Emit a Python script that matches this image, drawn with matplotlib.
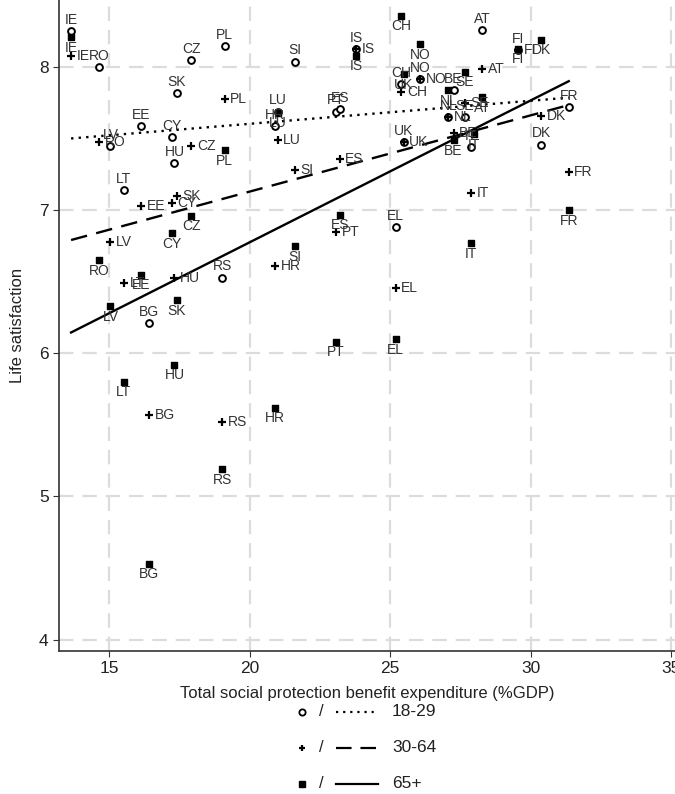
import numpy as np
import matplotlib
matplotlib.use('Agg')
import matplotlib.pyplot as plt

plt.rcParams['font.family'] = ['Liberation Sans', 'DejaVu Sans']

# Datos
countries = ['IE', 'RO', 'LV', 'LT', 'EE', 'BG', 'CY', 'HU', 'SK', 'CZ',
             'RS', 'PL', 'HR', 'LU', 'SI', 'PT', 'ES', 'IS', 'EL', 'CH',
             'UK', 'NO', 'NL', 'BE', 'SE', 'IT', 'AT', 'FI', 'DK', 'FR']
expenditure = [13.65, 14.65, 15.05, 15.53, 16.14, 16.43, 17.23, 17.33, 17.42, 17.93,
               19.03, 19.12, 20.91, 21.00, 21.61, 23.08, 23.21, 23.80, 25.20, 25.40,
               25.48, 26.08, 27.08, 27.26, 27.66, 27.88, 28.27, 29.57, 30.38, 31.36]
ls_18_29 = [8.25, 8.00, 7.45, 7.14, 7.59, 6.21, 7.51, 7.33, 7.82, 8.05,
            6.53, 8.15, 7.59, 7.69, 8.04, 7.69, 7.71, 8.13, 6.88, 7.88,
            7.48, 7.92, 7.65, 7.84, 7.65, 7.44, 8.26, 8.12, 7.46, 7.72]
ls_30_64 = [8.08, 7.48, 6.78, 6.49, 7.03, 5.57, 7.05, 6.53, 7.10, 7.45,
            5.52, 7.78, 6.61, 7.49, 7.28, 6.85, 7.36, 8.13, 6.46, 7.83,
            7.48, 7.92, 7.65, 7.54, 7.75, 7.12, 7.99, 8.12, 7.66, 7.27]
ls_65 = [8.21, 6.65, 6.33, 5.80, 6.55, 4.53, 6.84, 5.92, 6.37, 6.96,
         5.19, 7.42, 5.62, 7.68, 6.75, 6.08, 6.97, 8.08, 6.10, 8.36,
         7.95, 8.16, 7.84, 7.49, 7.97, 6.77, 7.79, 8.13, 8.19, 7.00]
# punto extra (cuadrado) cerca de IT
extra_65_label = ['IT']
extra_65_x = [27.97]
extra_65_y = [7.53]

fig = plt.figure(figsize=(6.75, 7.94), dpi=100)
ax = fig.add_axes([59 / 675, 1 - 651 / 794, 1 - 59 / 675, 651 / 794])

ax.set_xlim(13.22, 35.14)
ax.set_ylim(3.92, 8.47)

ax.set_xticks([15, 20, 25, 30, 35])
ax.set_yticks([4, 5, 6, 7, 8])
ax.grid(True, color='#dcdcdc', linestyle=(0, (6.5, 4)), linewidth=1.6)
ax.set_axisbelow(True)
for s in ['top', 'right']:
    ax.spines[s].set_visible(False)
for s in ['left', 'bottom']:
    ax.spines[s].set_color('#333333')
    ax.spines[s].set_linewidth(1.2)
ax.tick_params(axis='both', labelsize=12.5, length=4, color='#333333', labelcolor='#222222')
ax.set_xlabel('Total social protection benefit expenditure (%GDP)', fontsize=12, color='#222222', labelpad=7)
ax.set_ylabel('Life satisfaction', fontsize=12, color='#222222', labelpad=10)

x = np.array(expenditure)
lab_kw = dict(fontsize=10, color='#333333', textcoords='offset points', zorder=4)

# 18-29: circulos, etiqueta arriba
ax.scatter(x, ls_18_29, s=24, facecolors='white', edgecolors='black', linewidths=1.4, zorder=3)
for c, xi, yi in zip(countries, x, ls_18_29):
    ax.annotate(c, (xi, yi), xytext=(0, 8), ha='center', va='center', **lab_kw)

# 30-64: cruces, etiqueta a la derecha
ax.scatter(x, ls_30_64, s=28, marker='+', color='black', linewidths=1.6, zorder=3)
for c, xi, yi in zip(countries, x, ls_30_64):
    ax.annotate(c, (xi, yi), xytext=(4, 0), ha='left', va='center', **lab_kw)

# 65+: cuadrados, etiqueta abajo
ax.scatter(list(x) + extra_65_x, ls_65 + extra_65_y, s=24, marker='s', color='black', zorder=3)
for c, xi, yi in zip(countries + extra_65_label, list(x) + extra_65_x, ls_65 + extra_65_y):
    ax.annotate(c, (xi, yi), xytext=(0, -7.5), ha='center', va='center', **lab_kw)

# rectas de ajuste
xx = np.array([x.min(), x.max()])
for yv, style in [(ls_18_29, (0, (1, 2.2))), (ls_30_64, (0, (7, 4))), (ls_65, '-')]:
    b, a = np.polyfit(x, yv, 1)
    ax.plot(xx, a + b * xx, color='black', linestyle=style, linewidth=1.7, zorder=2)

# leyenda manual
lg = fig.add_axes([0, 0, 1, 1], facecolor='none')
lg.set_xlim(0, 675)
lg.set_ylim(794, 0)
lg.axis('off')
rows = [('o', (0, (1, 2.2)), '18-29'),
        ('+', (0, (7, 4)), '30-64'),
        ('s', '-', '65+')]
for i, (m, style, txt) in enumerate(rows):
    yy = 712 + 36 * i
    if m == 'o':
        lg.plot(302, yy, marker='o', ms=4.5, mfc='white', mec='black', mew=1.3)
    elif m == '+':
        lg.plot(302, yy, marker='+', ms=5, color='black', mew=1.6)
    else:
        lg.plot(302, yy, marker='s', ms=4.5, color='black')
    lg.text(321, yy, '/', fontsize=12, ha='center', va='center', color='#222222')
    lg.plot([336, 378], [yy, yy], color='black', linestyle=style, linewidth=1.6)
    lg.text(392, yy, txt, fontsize=12.5, ha='left', va='center', color='#222222')

fig.savefig('out.png', dpi=100)
